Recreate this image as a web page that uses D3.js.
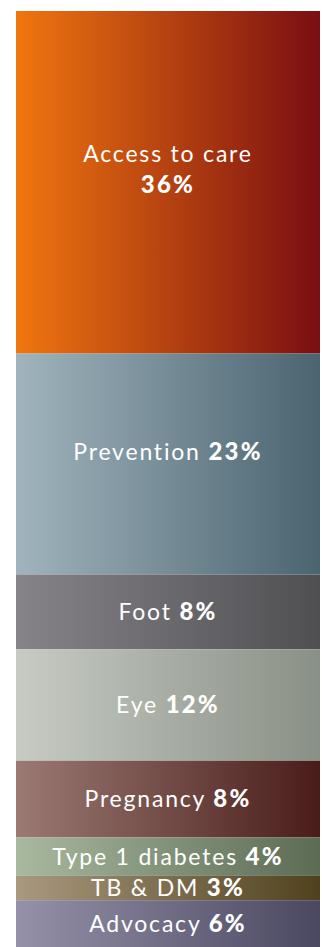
<!DOCTYPE html>
<html>
<head>
<meta charset="utf-8">
<script src="https://cdn.jsdelivr.net/npm/d3@7"></script>
<style>
  html, body { margin: 0; padding: 0; background: #fff; }
  svg { display: block; }
  .lbl { font-family: Lato, "Open Sans", sans-serif; fill: #fff; font-size: 23px; font-weight: 400; letter-spacing: 1.8px; }
  .lbl tspan.pct { font-weight: 900; font-size: 24px; letter-spacing: 2.2px; }
</style>
</head>
<body>
<svg id="chart"></svg>
<script>
// categories, top to bottom
const categories = ["Access to care", "Prevention", "Foot", "Eye", "Pregnancy", "Type 1 diabetes", "TB & DM", "Advocacy"]
// share of the bar
const shares = [36.6, 23.6, 8.0, 11.9, 8.2, 4.1, 2.6, 5.0]
// printed labels
const pctLabels = ["36%", "23%", "8%", "12%", "8%", "4%", "3%", "6%"]
// gradient colours, left -> right
const colorsLeft = ["#f0760f", "#a1b4bd", "#868389", "#c7cbc4", "#9b7a73", "#a8b9a0", "#a9997f", "#9591a9"]
const colorsRight = ["#7a0e12", "#4a6470", "#4f4f52", "#899085", "#491c1a", "#5c6b53", "#50411e", "#4a4760"]

const width = 322, height = 947
const margin = {top: 11, right: 2, bottom: 0, left: 16}

const svg = d3.select("#chart").attr("width", width).attr("height", height)

// stack the shares
let acc = 0
const rows = categories.map((c, i) => {
  const r = {name: c, y0: acc, y1: acc + shares[i], pct: pctLabels[i], i: i}
  acc += shares[i]
  return r
})

const y = d3.scaleLinear()
  .domain([0, d3.sum(shares)])
  .range([margin.top, height - margin.bottom])

const x0 = margin.left, x1 = width - margin.right

const defs = svg.append("defs")
rows.forEach(d => {
  const g = defs.append("linearGradient")
    .attr("id", "grad" + d.i)
    .attr("x1", "0%").attr("x2", "100%")
    .attr("y1", "0%").attr("y2", "0%")
  g.append("stop").attr("offset", "0%").attr("stop-color", colorsLeft[d.i])
  g.append("stop").attr("offset", "100%").attr("stop-color", colorsRight[d.i])
})

svg.selectAll("rect.seg")
  .data(rows)
  .enter().append("rect")
  .attr("class", "seg")
  .attr("x", x0)
  .attr("width", x1 - x0)
  .attr("y", d => y(d.y0))
  .attr("height", d => y(d.y1) - y(d.y0))
  .attr("fill", d => "url(#grad" + d.i + ")")

const cx = (x0 + x1) / 2
const labels = svg.append("g").attr("class", "labels")

rows.forEach(d => {
  const top = y(d.y0), bot = y(d.y1)
  const h = bot - top
  // tall segments carry their label a little above centre
  const mid = (top + bot) / 2 - (h > 150 ? 12 : 0)
  const t = labels.append("text")
    .attr("class", "lbl")
    .attr("text-anchor", "middle")
  if (d.i === 0) {
    // two line label
    t.append("tspan").attr("x", cx).attr("y", mid - 8).text(d.name)
    t.append("tspan").attr("class", "pct").attr("x", cx).attr("y", mid + 23).text(d.pct)
  } else {
    t.attr("x", cx).attr("y", mid + 8)
    t.append("tspan").text(d.name + " ")
    t.append("tspan").attr("class", "pct").text(d.pct)
  }
})
</script>
</body>
</html>
